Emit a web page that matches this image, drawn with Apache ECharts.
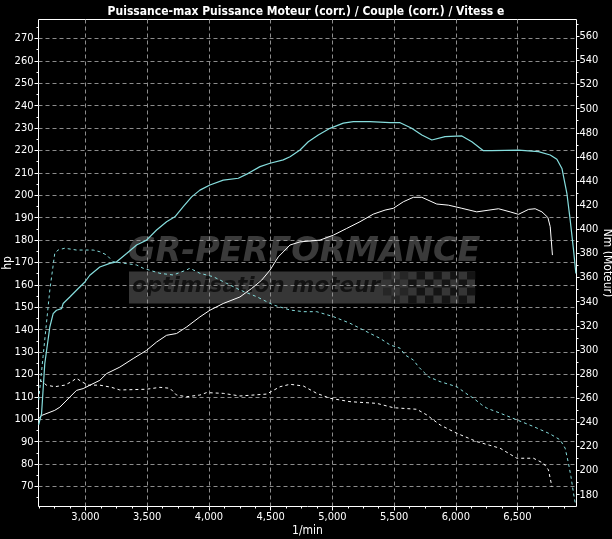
<!DOCTYPE html>
<html><head><meta charset="utf-8">
<script src="https://cdn.jsdelivr.net/npm/echarts@6/dist/echarts.min.js"></script>
<style>html,body{margin:0;padding:0;background:#000}#c{width:612px;height:539px}</style>
</head><body><div id="c"></div>
<script>
// ---- tick labels ----
const rpmTicks = [3000, 3500, 4000, 4500, 5000, 5500, 6000, 6500];
const rpmMinorTicks = [2625, 2750, 2875, 3125, 3250, 3375, 3625, 3750, 3875, 4125, 4250, 4375, 4625, 4750, 4875, 5125, 5250, 5375, 5625, 5750, 5875, 6125, 6250, 6375, 6625, 6750, 6875];
const hpTicks = [70, 80, 90, 100, 110, 120, 130, 140, 150, 160, 170, 180, 190, 200, 210, 220, 230, 240, 250, 260, 270];
const hpMinorTicks = [65, 75, 85, 95, 105, 115, 125, 135, 145, 155, 165, 175, 185, 195, 205, 215, 225, 235, 245, 255, 265, 275];
const nmTicks = [180, 200, 220, 240, 260, 280, 300, 320, 340, 360, 380, 400, 420, 440, 460, 480, 500, 520, 540, 560];
const nmMinorTicks = [190, 210, 230, 250, 270, 290, 310, 330, 350, 370, 390, 410, 430, 450, 470, 490, 510, 530, 550, 570];

// ---- series: power tuned (cyan solid, hp) ----
const powerTunedRpm = [2620,2644,2670,2711,2738,2765,2806,2819,2873,2927,2995,3035,3116,3197,3252,3333,3414,3495,3576,3657,3724,3792,3860,3927,4008,4116,4238,4319,4414,4495,4602,4657,4738,4805,4886,4981,5089,5170,5305,5468,5549,5643,5725,5806,5913,6049,6130,6224,6292,6508,6670,6765,6819,6860,6900,6927,6954,6973];
const powerTunedHp = [97.5,102.5,124.8,141.2,147.2,148.7,149.4,151.7,154.6,157.6,161.3,164.3,168.0,169.6,170.3,174.0,177.8,180.0,184.5,188.2,190.4,194.9,199.3,202.3,204.6,206.8,207.6,209.8,212.8,214.3,215.8,217.2,220.2,223.9,226.9,229.9,232.2,232.9,232.9,232.4,232.4,229.9,226.9,224.7,226.2,226.5,223.9,219.9,219.9,220.2,219.5,218.0,216.1,212.0,200.9,188.9,175.5,165.1];

// ---- power stock (white solid, hp) ----
const powerStockRpm = [2620,2644,2751,2792,2873,2927,2981,3035,3116,3171,3278,3386,3495,3576,3657,3738,3819,3927,4008,4116,4251,4346,4427,4495,4562,4657,4738,4900,5008,5116,5224,5332,5427,5494,5575,5656,5725,5846,5940,6049,6170,6346,6440,6508,6589,6643,6698,6746,6765,6783];
const powerStockHp = [100.2,101.7,104.0,105.4,109.9,112.9,113.7,115.2,117.4,120.4,123.3,127.1,130.8,134.5,137.5,138.3,141.2,145.7,148.7,151.7,154.6,158.4,162.1,166.6,172.5,177.8,179.2,180.0,182.2,185.2,188.2,191.6,193.4,194.2,197.1,199.1,199.1,196.1,195.6,194.2,192.6,194.0,192.6,191.5,193.7,194.0,192.6,190.1,186.0,173.3];

// ---- torque tuned (cyan dashed, Nm) ----
const torqueTunedRpm = [2621,2656,2711,2751,2778,2832,2927,3062,3116,3171,3224,3414,3467,3603,3711,3819,3846,3927,4035,4143,4251,4387,4521,4657,4765,4873,5008,5143,5251,5386,5468,5549,5589,5656,5697,5778,5873,6008,6102,6143,6211,6252,6359,6495,6629,6765,6846,6886,6913,6933,6954,6968];
const torqueTunedNm = [258.6,294.4,349.7,380.1,382.8,384.3,382.8,382.8,381.4,378.7,373.1,370.4,367.7,363.5,362.1,366.3,367.7,363.5,360.7,355.2,349.7,344.1,337.3,333.1,331.7,331.7,327.6,322.1,316.5,309.6,304.1,301.4,295.8,291.7,286.1,277.8,273.7,269.5,262.6,260.0,254.4,251.7,247.6,242.0,236.5,230.3,225.4,218.5,206.0,195.0,181.1,172.9];

// ---- torque stock (white dashed, Nm) ----
const torqueStockRpm = [2630,2684,2751,2832,2887,2927,2968,3021,3116,3211,3278,3495,3603,3684,3738,3819,3927,3981,4116,4251,4468,4576,4657,4765,4873,4981,5143,5360,5494,5684,5765,5873,6008,6170,6359,6495,6629,6711,6751,6779];
const torqueStockNm = [275.1,270.8,269.5,270.8,273.7,276.5,273.7,270.8,270.8,269.0,266.8,267.4,269.0,268.2,262.6,261.2,262.6,264.6,264.0,261.8,263.4,269.5,271.5,270.1,264.0,259.9,257.1,255.7,252.1,250.8,246.1,237.8,230.9,224.0,218.5,210.2,210.2,206.0,200.5,186.6];

const titleText = 'Puissance-max Puissance Moteur (corr.) / Couple (corr.) / Vitess e';

const zip = (xs, ys) => xs.map((x, i) => [x, ys[i]]);
const fmtThousands = v => String(Math.round(v)).replace(/\B(?=(\d{3})+(?!\d))/g, ',');
const narrow = '"Liberation Sans Narrow", "Arial Narrow", "DejaVu Sans Condensed", "Liberation Sans", sans-serif';
const gridLine = { color: '#8c8c8c', type: [4, 3], width: 1 };
const X_MIN = 2619.2, X_MAX = 6978;
const HP_MIN = 61.07, HP_MAX = 278.48;
const NM_MIN = 170.2, NM_MAX = 573.9;
const CYAN = '#86dede';

const chart = echarts.init(document.getElementById('c'));

// watermark (decoration)
const checker = [];
for (let r = 0; r < 4; r++) {
  for (let c = 0; c < 11; c++) {
    if ((r + c) % 2 === 0) {
      checker.push({ type: 'rect', z: -1, silent: true,
        shape: { x: 383 + c * 8.4, y: 271.5 + r * 8, width: 8.4, height: 8 },
        style: { fill: c < 3 ? '#262626' : '#141414' } });
    }
  }
}

chart.setOption({
  backgroundColor: '#000',
  animation: false,
  title: {
    text: titleText, left: 'center', top: 1,
    textStyle: { color: '#fff', fontSize: 12, fontWeight: 'bold', fontFamily: narrow }
  },
  grid: { left: 38.5, top: 19.5, right: 35.5, bottom: 32.5, show: true, borderColor: '#fff', borderWidth: 1,
          backgroundColor: 'transparent', containLabel: false, outerBoundsMode: 'none' },
  graphic: [
    { type: 'rect', z: -2, silent: true, shape: { x: 129, y: 271.5, width: 346, height: 32 }, style: { fill: '#363636' } },
    { type: 'text', z: -2, silent: true, x: 128, y: 235,
      style: { text: 'GR-PERFORMANCE', font: 'italic bold 33.5px "DejaVu Sans"', fill: '#3a3a3a' } },
    { type: 'text', z: -1, silent: true, x: 132, y: 275,
      style: { text: 'optimisation moteur', font: 'italic bold 21.5px "DejaVu Sans"', fill: '#121212' } }
  ].concat(checker),
  xAxis: [
    {
      type: 'value', min: X_MIN, max: X_MAX,
      name: '1/min', nameLocation: 'middle', nameGap: 18, nameMoveOverlap: false,
      nameTextStyle: { color: '#fff', fontSize: 12, fontFamily: narrow },
      axisLine: { show: false },
      axisTick: { show: true, customValues: rpmTicks, length: 4, lineStyle: { color: '#fff' } },
      axisLabel: { customValues: rpmTicks, color: '#fff', fontSize: 11, fontFamily: narrow, margin: 5, formatter: fmtThousands },
      splitLine: { show: true, lineStyle: gridLine }
    },
    {
      type: 'value', min: X_MIN, max: X_MAX, position: 'bottom',
      axisLine: { show: false },
      axisTick: { show: true, customValues: rpmMinorTicks, length: 2, lineStyle: { color: '#fff' } },
      axisLabel: { show: false }, splitLine: { show: false }
    }
  ],
  yAxis: [
    {
      type: 'value', min: HP_MIN, max: HP_MAX, position: 'left',
      name: 'hp', nameLocation: 'middle', nameGap: 25, nameMoveOverlap: false,
      nameTextStyle: { color: '#fff', fontSize: 12, fontFamily: narrow },
      axisLine: { show: false },
      axisTick: { show: true, customValues: hpTicks, length: 4, lineStyle: { color: '#fff' } },
      axisLabel: { customValues: hpTicks, color: '#fff', fontSize: 11, fontFamily: narrow, margin: 5 },
      splitLine: { show: true, lineStyle: gridLine }
    },
    {
      type: 'value', min: NM_MIN, max: NM_MAX, position: 'right',
      name: 'Nm (Moteur)', nameLocation: 'middle', nameGap: 25, nameRotate: -90, nameMoveOverlap: false,
      nameTextStyle: { color: '#fff', fontSize: 12, fontFamily: narrow },
      axisLine: { show: false },
      axisTick: { show: true, customValues: nmTicks, length: 3, lineStyle: { color: '#fff' } },
      axisLabel: { customValues: nmTicks, color: '#fff', fontSize: 11, fontFamily: narrow, margin: 3 },
      splitLine: { show: false }
    },
    {
      type: 'value', min: HP_MIN, max: HP_MAX, position: 'left',
      axisLine: { show: false },
      axisTick: { show: true, customValues: hpMinorTicks, length: 2, lineStyle: { color: '#fff' } },
      axisLabel: { show: false }, splitLine: { show: false }
    },
    {
      type: 'value', min: NM_MIN, max: NM_MAX, position: 'right',
      axisLine: { show: false },
      axisTick: { show: true, customValues: nmMinorTicks, length: 2, lineStyle: { color: '#fff' } },
      axisLabel: { show: false }, splitLine: { show: false }
    }
  ],
  series: [
    { name: 'Couple (série)', type: 'line', xAxisIndex: 0, yAxisIndex: 1, data: zip(torqueStockRpm, torqueStockNm),
      showSymbol: false, lineStyle: { color: '#ffffff', width: 1, type: [3, 3] } },
    { name: 'Couple (optimisé)', type: 'line', xAxisIndex: 0, yAxisIndex: 1, data: zip(torqueTunedRpm, torqueTunedNm),
      showSymbol: false, lineStyle: { color: CYAN, width: 1, type: [3, 3] } },
    { name: 'Puissance (série)', type: 'line', xAxisIndex: 0, yAxisIndex: 0, data: zip(powerStockRpm, powerStockHp),
      showSymbol: false, lineStyle: { color: '#ffffff', width: 1 } },
    { name: 'Puissance (optimisé)', type: 'line', xAxisIndex: 0, yAxisIndex: 0, data: zip(powerTunedRpm, powerTunedHp),
      showSymbol: false, lineStyle: { color: CYAN, width: 1.2 } }
  ]
});
</script>
</body></html>
